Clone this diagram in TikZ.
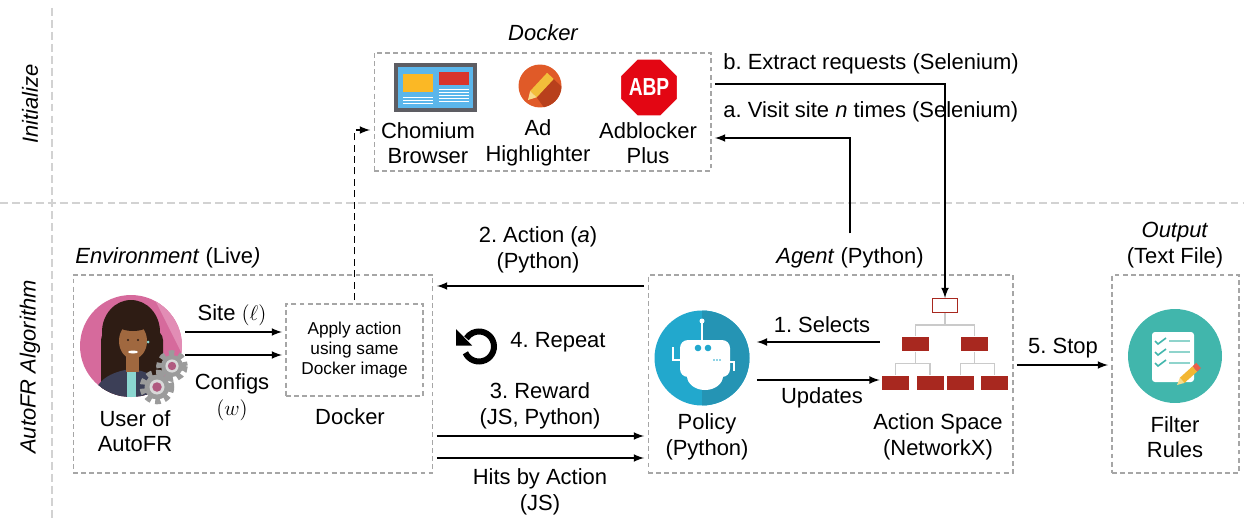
\documentclass[tikz,border=0pt]{standalone}
\usepackage{fontspec}
\setmainfont{Liberation Sans}
\usepackage{tikz}
\usetikzlibrary{shapes}
\usetikzlibrary{positioning}
\usetikzlibrary{calc}
\usetikzlibrary{arrows}

\newcommand{\mainsize}{\fontsize{12.5}{14.6}\selectfont}
\newcommand{\smallsize}{\fontsize{9.8}{11.4}\selectfont}

\definecolor{sepgray}{HTML}{D2D2D2}
\definecolor{boxgray}{HTML}{A6A6A6}
\definecolor{branchgray}{HTML}{CACACA}
\definecolor{treered}{HTML}{A8281F}
\definecolor{robotblue}{HTML}{22A8CD}
\definecolor{robotdark}{HTML}{2594B4}
\definecolor{ruleteal}{HTML}{41B6AC}
\definecolor{ruleline}{HTML}{8FD4CC}
\definecolor{userpink}{HTML}{D66A9C}
\definecolor{userlight}{HTML}{E28DB5}
\definecolor{hair}{HTML}{2E1C14}
\definecolor{skin}{HTML}{A0683F}
\definecolor{jacket}{HTML}{3C3F57}
\definecolor{shirt}{HTML}{8BD6D0}
\definecolor{geargray}{HTML}{9B9B9B}
\definecolor{gearlight}{HTML}{D9D9D9}
\definecolor{gearhole}{HTML}{B05A80}
\definecolor{scrframe}{HTML}{5D5D63}
\definecolor{scrblue}{HTML}{5BB6EB}
\definecolor{scryellow}{HTML}{FBB825}
\definecolor{scrred}{HTML}{D9342B}
\definecolor{hlorange}{HTML}{E05A28}
\definecolor{hldark}{HTML}{B8401C}
\definecolor{penyellow}{HTML}{F2BE3A}
\definecolor{penlight}{HTML}{F8DC8A}
\definecolor{pencilbody}{HTML}{F3B732}
\definecolor{pencilend}{HTML}{E8604C}
\definecolor{abpred}{HTML}{E30613}

\frenchspacing
\begin{document}
\begin{tikzpicture}[
    x=0.02cm, y=-0.02cm,
    >=latex,
    every node/.style={font=\mainsize},
    txt/.style={align=center, inner sep=0pt},
    group/.style={draw=boxgray, line width=0.6pt, dash pattern=on 2.8pt off 1.8pt, outer sep=0.08cm},
    divider/.style={draw=sepgray, line width=1.1pt, dash pattern=on 4.5pt off 2.3pt},
    flow/.style={->, line width=1pt},
    icon/.style={circle, inner sep=0pt},
    leaf/.style={fill=treered, minimum width=0.54cm, minimum height=0.29cm, inner sep=0pt},
    branch/.style={draw=branchgray, line width=1pt}
]
\useasboundingbox (0,0) rectangle (1244,520);

\draw[divider] (52,8) -- (52,520);
\draw[divider] (0,203) -- (1244,203);
\node[rotate=90, font=\mainsize\itshape] (initlbl) at (30,104) {Initialize};
\node[rotate=90, font=\mainsize\itshape] (algolbl) at (30,367) {AutoFR Algorithm};

% docker with the browser and its extensions
\node[group, minimum width=6.74cm, minimum height=2.36cm] (dockbox) at (542.5,112) {};
\node[font=\mainsize\itshape] (docklbl) at (543,33) {Docker};

\node[fill=scrframe, minimum width=1.66cm, minimum height=0.98cm, inner sep=0pt] (browser) at (435.5,87.5) {};
\fill[scrblue] (398,67) rectangle (473,108);
\fill[scryellow] (403,74) rectangle (433,92);
\fill[scrred] (439,72) rectangle (469,85);
\foreach \y in {97,100,103} \draw[white, line width=0.5pt] (403,\y) -- (433,\y);
\foreach \y in {89,92,95,98,101} \draw[white, line width=0.5pt] (439,\y) -- (469,\y);

\node[icon, fill=hlorange, minimum size=0.86cm] (hlicon) at (540,86) {};
\begin{scope}
  \clip (540,86) circle (21.5);
  \fill[hldark] (536.7,97.3) -- (553.7,79) -- (580,105) -- (560,130) -- cycle;
\end{scope}
\fill[penyellow] (536.7,97.3) -- (553.7,79) -- (547.1,72.8) -- (530.1,91.1) -- cycle;
\fill[penlight] (528,100) -- (536.7,97.3) -- (530.1,91.1) -- cycle;

\node[regular polygon, regular polygon sides=8, fill=abpred, draw=white, line width=1pt, minimum size=1.06cm, inner sep=0pt, text=white, font=\bfseries\fontsize{14}{14}\selectfont] (abpicon) at (649,87.5) {\scalebox{0.78}[1]{ABP}};

\node[txt] (browserlbl) at (428,143) {Chomium\\Browser};
\node[txt] (hllbl) at (538,143) {Ad\\Highlighter};
\node[txt] (abplbl) at (648,143) {Adblocker\\Plus};

\node[txt, anchor=west] (extractlbl) at (723,64) {b. Extract requests (Selenium)};
\node[txt, anchor=west] (visitlbl) at (723,112) {a. Visit site \textit{n} times (Selenium)};

% environment
\node[group, minimum width=7.2cm, minimum height=3.96cm] (envbox) at (253,374) {};
\node[txt, anchor=west] (envlbl) at (75,258) {\textit{Environment} (Live\textit{)}};

\node[icon, fill=userpink, minimum size=2.04cm] (user) at (131,346) {};
\begin{scope}
  \clip (131,346) circle (51);
  \fill[userlight] (150,290) -- (195,290) -- (195,380) -- cycle;
  \fill[hair] (131,332) ellipse (29 and 32);
  \fill[hair, rounded corners=0.2cm] (101,330) -- (101,396) -- (163,396) -- (163,330) -- cycle;
  \fill[jacket] (92,400) .. controls (96,380) and (110,372) .. (131,369) .. controls (152,372) and (166,380) .. (170,400) -- cycle;
  \fill[shirt] (127,372) rectangle (136,400);
  \fill[skin] (126,352) rectangle (139,372);
  \fill[skin] (133,341) ellipse (14 and 18);
  \fill[hair] (133,324) ellipse (16 and 7);
  \fill[white] (133,352) ellipse (5 and 1.5);
  \fill[hair] (128,340) circle (1.2);
  \fill[hair] (138,340) circle (1.2);
  \fill[shirt] (148,342) circle (1.5);
\end{scope}
\foreach \gx/\gy/\gr in {172/366/11, 157/387/12.5} {
  \draw[geargray, line width=0.12cm, dash pattern=on 3pt off 2.4pt] (\gx,\gy) circle[radius=\gr+1.8];
  \fill[geargray] (\gx,\gy) circle[radius=\gr];
  \fill[gearlight] (\gx,\gy) circle[radius=\gr*0.6];
  \fill[gearhole] (\gx,\gy) circle[radius=\gr*0.38];
}
\node[txt] (userlbl) at (135,431) {User of\\AutoFR};

\node[group, minimum width=2.74cm, minimum height=1.84cm, font=\smallsize, align=center] (docksmall) at (354.5,350) {Apply action\\using same\\Docker image};
\node[txt] (dockimglbl) at (350,417) {Docker};

\draw[flow] ($(user.east)+(3,-14)$) -- ($(docksmall.west)+(0,-18)$);
\draw[flow] ($(user.east)+(3,9)$) -- ($(docksmall.west)+(0,5)$);
\node[txt] (sitelbl) at (232,315) {Site $(\ell)$};
\node[txt] (configlbl) at (232,397) {Configs\\$(w)$};

% agent
\node[group, minimum width=7.3cm, minimum height=3.96cm] (agentbox) at (830.5,374) {};
\node[txt] (agentlbl) at (850,258) {\textit{Agent} (Python)};

\node[icon, fill=robotblue, minimum size=1.9cm] (robot) at (702,358) {};
\begin{scope}
  \clip (702,358) circle (47.5);
  \fill[robotdark] (702,300) rectangle (760,420);
\end{scope}
\draw[white, line width=1.1pt] (702,322) -- (702,340);
\fill[white] (702,321) circle (2.5);
\fill[white, rounded corners=0.16cm] (680,377) -- (680,340) -- (730,340) -- (730,377) -- cycle;
\fill[white] (723,376) arc[start angle=0, end angle=180, x radius=18, y radius=14] -- cycle;
\fill[robotblue] (698,348) circle (3.3);
\fill[robotblue] (708,348) circle (3.3);
\foreach \dx in {714,717,720} \fill[robotblue] (\dx,360) circle (0.9);
\draw[white, line width=1.1pt] (680,360) -| (673,347);
\draw[white, line width=1.1pt] (730,362) -| (734,371);
\node[txt] (policylbl) at (707,437) {Policy\\(Python)};

\node[leaf, fill=white, draw=treered, line width=0.8pt, minimum width=0.5cm, minimum height=0.27cm] (root) at (945,305.5) {};
\node[leaf] (l2a) at (915.5,344) {};
\node[leaf] (l2b) at (974.5,344) {};
\node[leaf] (l3a) at (895.5,383) {};
\node[leaf] (l3b) at (930,383) {};
\node[leaf] (l3c) at (960.5,383) {};
\node[leaf] (l3d) at (994.5,383) {};
\draw[branch] (root.south) -- ++(0,12);
\draw[branch] (l2a.north) |- ($(root.south)+(0,12)$) -| (l2b.north);
\draw[branch] (l2a.south) -- ++(0,12);
\draw[branch] (l3a.north) |- ($(l2a.south)+(0,12)$) -| (l3b.north);
\draw[branch] (l2b.south) -- ++(0,12);
\draw[branch] (l3c.north) |- ($(l2b.south)+(0,12)$) -| (l3d.north);
\node[txt] (spacelbl) at (938,437) {Action Space\\(NetworkX)};

\draw[flow] ($(l3a.west |- l2a.west)+(-2,-2)$) -- ($(robot.east |- l2a.west)+(7,-2)$);
\draw[flow] ($(robot.east |- l3a.west)+(7,-3)$) -- ($(l3a.west)+(-2,-3)$);
\node[txt] (selectlbl) at (822,325) {1. Selects};
\node[txt] (updatelbl) at (822,398) {Updates};

% output
\node[group, minimum width=2.54cm, minimum height=3.96cm] (outbox) at (1175.5,374) {};
\node[txt] (outlbl) at (1175,245) {\textit{Output}\\(Text File)};
\node[icon, fill=ruleteal, minimum size=1.88cm] (rules) at (1175,356) {};
\fill[white, rounded corners=0.06cm] (1152,332) rectangle (1194,382);
\foreach \y in {341,352,363} {
  \draw[ruleteal, line width=0.9pt] (1155,\y) -- (1158,\y+3) -- (1166,\y-3);
  \draw[ruleline, line width=1.3pt] (1169,\y) -- (1190,\y);
}
\fill[penlight] (1177,385) -- (1184.5,382.9) -- (1179.9,377.7) -- cycle;
\fill[pencilbody] (1184.5,382.9) -- (1197.2,371.5) -- (1192.5,366.3) -- (1179.9,377.7) -- cycle;
\fill[pencilend] (1197.2,371.5) -- (1200.9,368.1) -- (1196.2,362.9) -- (1192.5,366.3) -- cycle;
\node[txt] (ruleslbl) at (1175,437) {Filter\\Rules};

% steps between the parts
\draw[flow] ($(dockbox.east)+(0,-28)$) -| (root.north);
\draw[flow] ($(agentlbl.north)+(0,-14)$) |- ($(dockbox.east)+(0,26)$);
\draw[flow, dash pattern=on 4pt off 2.5pt] (docksmall.north) |- ($(dockbox.west)+(0,18)$);

\draw[flow] ($(agentbox.west)+(0,-88)$) -- ($(envbox.east)+(0,-88)$);
\node[txt] (actionlbl) at (538,250) {2. Action (\textit{a})\\(Python)};
\draw[line width=0.12cm] ($(479,346.5)+(155:15)$) arc[start angle=155, end angle=-147, radius=15];
\fill (456,329) -- (456,345.5) -- (472,345.5) -- cycle;
\node[txt, anchor=west] (repeatlbl) at (510,342) {4. Repeat};
\draw[flow] ($(envbox.east)+(0,62)$) -- ($(agentbox.west)+(0,62)$);
\draw[flow] ($(envbox.east)+(0,84)$) -- ($(agentbox.west)+(0,84)$);
\node[txt] (rewardlbl) at (540,406) {3. Reward\\(JS, Python)};
\node[txt] (hitslbl) at (540,492) {Hits by Action\\(JS)};

\draw[flow] ($(agentbox.east)+(0,-9)$) -- ($(outbox.west)+(0,-9)$);
\node[txt] (stoplbl) at (1063,348) {5. Stop};
\end{tikzpicture}
\end{document}
